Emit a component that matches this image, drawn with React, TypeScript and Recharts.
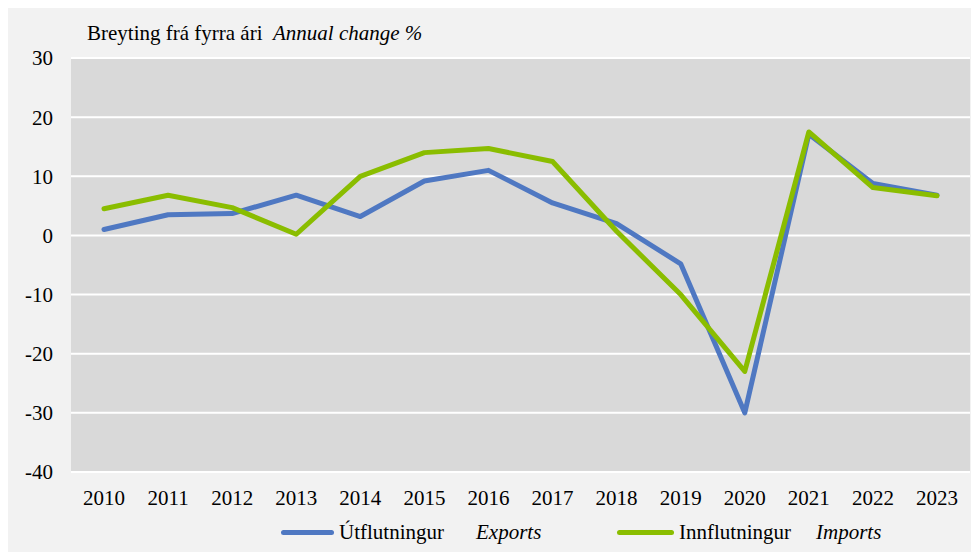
import { LineChart, Line, XAxis, YAxis, CartesianGrid } from "recharts";

const years = ["2010", "2011", "2012", "2013", "2014", "2015", "2016", "2017", "2018", "2019", "2020", "2021", "2022", "2023"];
const exportsPct = [1.0, 3.5, 3.7, 6.8, 3.2, 9.2, 11.0, 5.5, 2.0, -4.8, -30.0, 17.1, 8.8, 6.8];
const importsPct = [4.5, 6.8, 4.7, 0.2, 10.0, 14.0, 14.7, 12.5, 0.7, -10.0, -23.0, 17.5, 8.1, 6.7];
const yTicks = [-40, -30, -20, -10, 0, 10, 20, 30];

const data = years.map((y, i) => ({ year: y, exports: exportsPct[i], imports: importsPct[i] }));

const FONT = '"Liberation Serif", "Times New Roman", serif';
const BLUE = "#4f78c2";
const GREEN = "#8abd00";

// legend drawn as plain html under the plot, placed like the original
function LegendItem(props: { left: number; color: string; lineW: number; is: string; en: string; enLeft: number }) {
  const { left, color, lineW, is, en, enLeft } = props;
  return (
    <>
      <div style={{ position: "absolute", left, top: 10, width: lineW, height: 5, borderRadius: 3, background: color }} />
      <span style={{ position: "absolute", left: left + lineW + 5, top: 0 }}>{is}</span>
      <span style={{ position: "absolute", left: enLeft, top: 0, fontStyle: "italic" }}>{en}</span>
    </>
  );
}

export default function App() {
  return (
    <div style={{ position: "relative", left: -4, width: 975, height: 544, background: "#f2f2f2" }}>
      <div
        style={{
          position: "absolute",
          left: 83,
          top: 13,
          fontFamily: FONT,
          fontSize: 21,
          lineHeight: "24px",
          color: "#000",
          whiteSpace: "pre",
        }}
      >
        Breyting frá fyrra ári  <i>Annual change %</i>
      </div>
      <LineChart width={975} height={544} data={data} margin={{ top: 50, right: 9, left: 0, bottom: 50 }}>
        <CartesianGrid vertical={false} stroke="#ffffff" strokeWidth={2} fill="#d9d9d9" />
        <XAxis
          dataKey="year"
          height={30}
          padding={{ left: 33, right: 33 }}
          axisLine={false}
          tickLine={false}
          tickSize={0}
          tickMargin={18}
          interval={0}
          tick={{ fill: "#000", fontSize: 21, fontFamily: FONT }}
        />
        <YAxis
          width={67}
          domain={[-40, 30]}
          ticks={yTicks}
          interval={0}
          axisLine={false}
          tickLine={false}
          tickSize={0}
          tickMargin={18}
          tick={{ fill: "#000", fontSize: 21, fontFamily: FONT }}
        />
        <Line dataKey="exports" stroke={BLUE} strokeWidth={5} dot={false} isAnimationActive={false} strokeLinejoin="round" strokeLinecap="round" />
        <Line dataKey="imports" stroke={GREEN} strokeWidth={5} dot={false} isAnimationActive={false} strokeLinejoin="round" strokeLinecap="round" />
      </LineChart>
      <div
        style={{
          position: "absolute",
          left: 0,
          top: 512,
          width: 975,
          height: 26,
          fontFamily: FONT,
          fontSize: 21,
          lineHeight: "24px",
          color: "#000",
          whiteSpace: "pre",
        }}
      >
        <LegendItem left={277} color={BLUE} lineW={53} is="Útflutningur" en="Exports" enLeft={472} />
        <LegendItem left={613} color={GREEN} lineW={57} is="Innflutningur" en="Imports" enLeft={812} />
      </div>
    </div>
  );
}
